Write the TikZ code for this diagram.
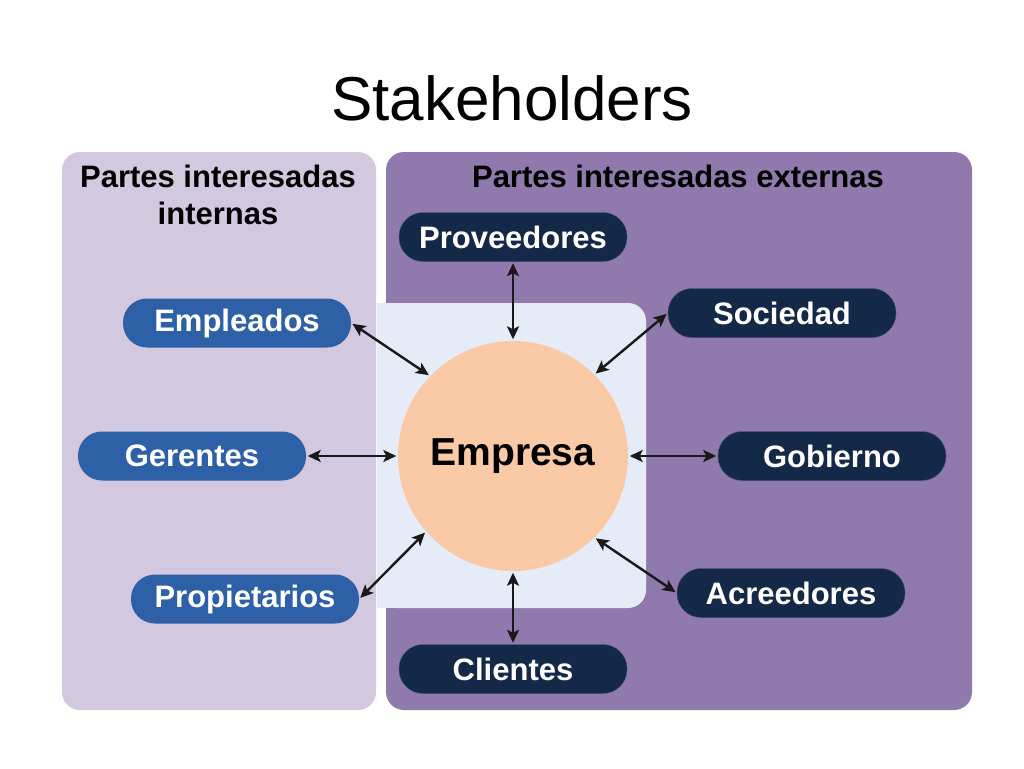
\documentclass[tikz,border=0pt]{standalone}
\usepackage{fontspec}
\setmainfont{Liberation Sans}
\usepackage{tikz}
\usetikzlibrary{arrows.meta,positioning}
\definecolor{innerbg}{RGB}{210,200,224}
\definecolor{outerbg}{RGB}{144,121,172}
\definecolor{centerbg}{RGB}{230,236,247}
\definecolor{firmfill}{RGB}{249,202,165}
\definecolor{innerpill}{RGB}{45,96,166}
\definecolor{outerpill}{RGB}{20,40,72}
\tikzset{
    %Define style for pills
    internal/.style={
           rectangle,
           rounded corners=24pt,
           fill=innerpill,
           minimum width=228pt,
           minimum height=49pt,
           text=white,
           font=\bfseries\fontsize{31}{34}\selectfont,
           text centered},
    external/.style={
           rectangle,
           rounded corners=24pt,
           fill=outerpill,
           draw=outerpill!80!white,
           minimum width=228pt,
           minimum height=49pt,
           text=white,
           font=\bfseries\fontsize{31}{34}\selectfont,
           text centered},
    firm/.style={
           circle,
           fill=firmfill,
           minimum size=230pt,
           inner sep=0pt,
           font=\bfseries\fontsize{39}{44}\selectfont},
    header/.style={
           align=center,
           font=\bfseries\fontsize{31}{37}\selectfont},
    % Define arrow style
    link/.style={
           arrows={Stealth[length=13pt,width=12pt,inset=3pt]-Stealth[length=13pt,width=12pt,inset=3pt]},
           line width=2.4pt,
           draw=black!90,
           shorten <=1.5pt,
           shorten >=1.5pt}
}
\begin{document}
\begin{tikzpicture}[x=1pt,y=-1pt]
\useasboundingbox[fill=white] (0,0) rectangle (1024,768);

 %panels
\fill[innerbg, rounded corners=18pt] (62,152) rectangle (376,710);
\fill[outerbg, rounded corners=18pt] (386,152) rectangle (972,710);
\fill[centerbg, rounded corners=18pt] (377,303) rectangle (646,608);
\fill[centerbg] (377,303) rectangle (500,608);

 %titles
\node[font=\fontsize{62}{70}\selectfont] (title) at (512,98) {Stakeholders};
\node[header] (hint) at (218,195) {Partes interesadas\\internas};
\node[header] (hext) at (678,176) {Partes interesadas externas};

 %nodes
\node[firm] (firm) at (513,456) {Empresa};
\node[internal] (emp) at (237,323) {Empleados};
\node[internal] (ger) at (192,456) {Gerentes};
\node[internal] (prop) at (245,599) {Propietarios};
\node[external] (prov) at (513,237) {Proveedores};
\node[external] (soc) at (782,313) {Sociedad};
\node[external] (gob) at (832,456) {Gobierno};
\node[external] (acr) at (791,593) {Acreedores};
\node[external] (cli) at (513,669) {Clientes};

 %connectors
\draw[link] (emp.east) -- (firm.136);
\draw[link] (ger.east) -- (firm.west);
\draw[link] (prop.east) -- (firm.221);
\draw[link] (prov.south) -- (firm.north);
\draw[link] (soc.west) -- (firm.45);
\draw[link] (gob.west) -- (firm.east);
\draw[link] (acr.west) -- (firm.-45);
\draw[link] (cli.north) -- (firm.south);

\end{tikzpicture}
\end{document}
